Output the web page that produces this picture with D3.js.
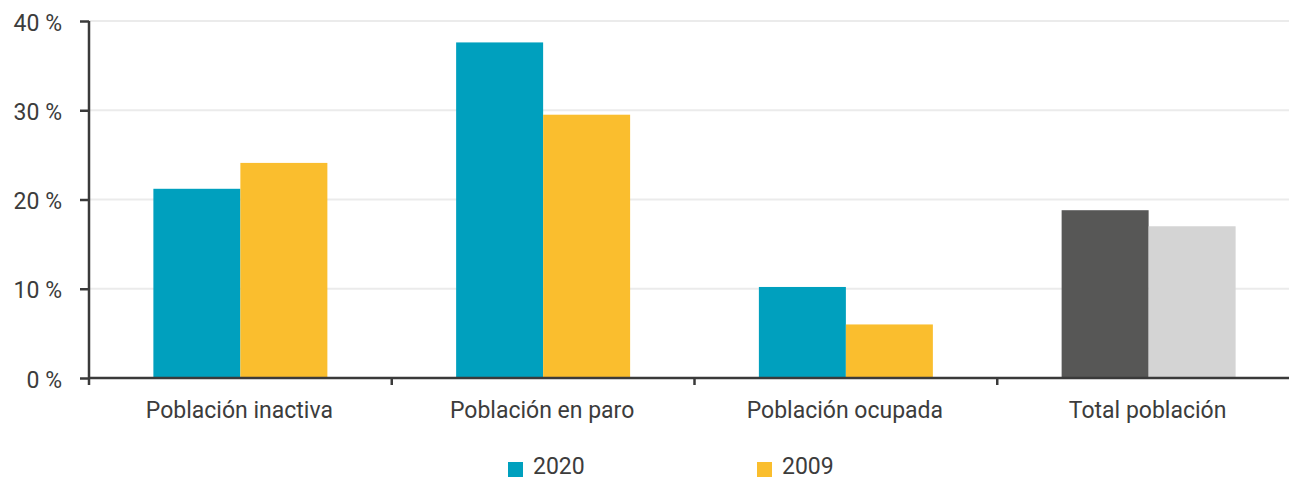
<!DOCTYPE html>
<html><head><meta charset="utf-8">
<script src="https://cdn.jsdelivr.net/npm/d3@7"></script>
<style>body{margin:0;background:#fff}svg{display:block}</style>
</head><body><svg id="c" width="1289" height="477"></svg>
<script>
const categories = ["Población inactiva","Población en paro","Población ocupada","Total población"];
const series = ["2020","2009"];
const values2020 = [21.2, 37.6, 10.2, 18.8];
const values2009 = [24.1, 29.5, 6.0, 17.0];
const yTicks = [0,10,20,30,40];
const colors2020 = ["#00A0BE","#00A0BE","#00A0BE","#575756"];
const colors2009 = ["#FABE2E","#FABE2E","#FABE2E","#D4D4D4"];

const FONT = "Roboto, 'Noto Sans', sans-serif";
const TXT = "#3c3c3c";
const svg = d3.select("#c");
const x0 = 89, x1 = 1300, yb = 378, yt = 21;
const x = d3.scaleBand().domain(categories).range([x0,x1]).paddingInner(0).paddingOuter(0);
const xs = d3.scaleBand().domain(series).range([0,x.bandwidth()]).paddingInner(0).paddingOuter(0.74);
const y = d3.scaleLinear().domain([0,40]).range([yb,yt]);

// gridlines
svg.append("g").selectAll("line").data(yTicks.slice(1)).join("line")
  .attr("x1",x0).attr("x2",1289).attr("y1",d=>y(d)).attr("y2",d=>y(d))
  .attr("stroke","#ebebeb").attr("stroke-width",2);

// bars
const rows = categories.map((c,i)=>({c,i,vals:[values2020[i],values2009[i]]}));
const g = svg.append("g");
rows.forEach(r=>{
  series.forEach((s,j)=>{
    const v = r.vals[j];
    g.append("rect").attr("x",x(r.c)+xs(s)).attr("width",xs.bandwidth())
      .attr("y",y(v)).attr("height",yb-y(v))
      .attr("fill", j===0?colors2020[r.i]:colors2009[r.i]);
  });
});

// y axis
const ya = svg.append("g").attr("transform",`translate(${x0},0)`)
  .call(d3.axisLeft(y).tickValues(yTicks).tickFormat(d=>d+" %").tickSize(9).tickPadding(18));
ya.select(".domain").attr("stroke","#3a3a3a").attr("stroke-width",2.5).attr("d",`M0,${yt}V${yb+7}`);
ya.selectAll(".tick line").attr("stroke","#3a3a3a").attr("stroke-width",2.5);
ya.selectAll(".tick text").style("font-size","23px").style("font-family",FONT).attr("fill",TXT).attr("dy","0.4em");

// x axis
const xa = svg.append("g").attr("transform",`translate(0,${yb})`);
xa.append("line").attr("x1",x0).attr("x2",1289).attr("y1",0).attr("y2",0).attr("stroke","#3a3a3a").attr("stroke-width",2.5);
xa.selectAll("line.t").data(categories.slice(1)).join("line").attr("class","t")
  .attr("x1",d=>x(d)).attr("x2",d=>x(d)).attr("y1",0).attr("y2",7)
  .attr("stroke","#3a3a3a").attr("stroke-width",2.5);
xa.selectAll("text").data(categories).join("text")
  .attr("x",d=>x(d)+x.bandwidth()/2 - 1).attr("y",40)
  .attr("text-anchor","middle").style("font-size","23px").style("font-family",FONT).attr("fill",TXT).text(d=>d);

// legend
const legend = [{s:"2020",c:colors2020[0],x:508},{s:"2009",c:colors2009[0],x:757}];
const lg = svg.append("g");
legend.forEach(l=>{
  lg.append("rect").attr("x",l.x).attr("y",462).attr("width",15).attr("height",15).attr("fill",l.c);
  lg.append("text").attr("x",l.x+25).attr("y",474).style("font-size","23px").style("font-family",FONT).attr("fill",TXT).text(l.s);
});
</script></body></html>
